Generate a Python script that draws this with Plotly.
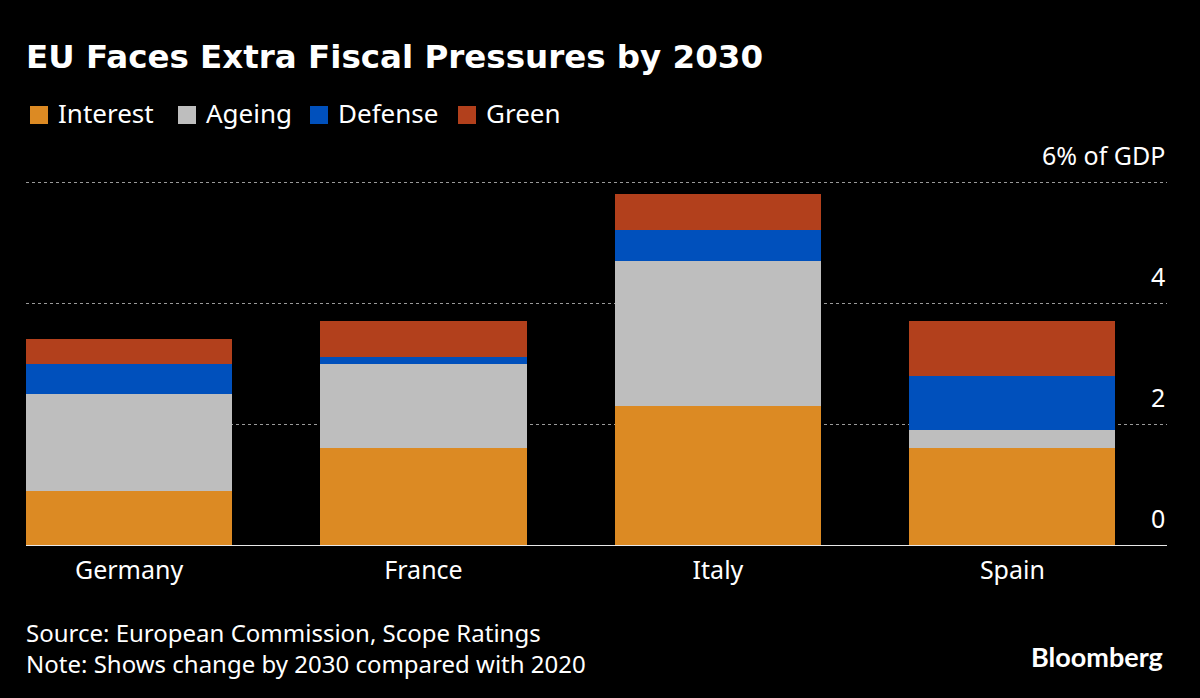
import plotly.graph_objects as go

# Values, % of GDP
countries = ["Germany", "France", "Italy", "Spain"]
interest = [0.9, 1.6, 2.3, 1.6]
ageing = [1.6, 1.4, 2.4, 0.3]
defense = [0.5, 0.1, 0.5, 0.9]
green = [0.4, 0.6, 0.6, 0.9]

series_names = ["Interest", "Ageing", "Defense", "Green"]
series_colors = ["#dc8a23", "#bebebe", "#0050bc", "#b2401c"]

y_ticks = [0, 2, 4, 6]
y_tick_labels = ["0", "2", "4", "6% of GDP"]

footer_lines = [
    "Source: European Commission, Scope Ratings",
    "Note: Shows change by 2030 compared with 2020",
]

WIDTH = 1200
HEIGHT = 698
TEXT_FONT = "Noto Sans"

# Plot area edges in pixels
LEFT = 26
RIGHT = 1167
TOP = 179
BOTTOM = 545


def px_x(x):
    """Pixel column to paper coordinate (paper spans the plot area)."""
    return (x - LEFT) / (RIGHT - LEFT)


def px_y(y):
    """Pixel row to paper coordinate (paper spans the plot area)."""
    return (BOTTOM - y) / (BOTTOM - TOP)


fig = go.Figure()

# Add the stacked bars
for name, values, color in zip(series_names, [interest, ageing, defense, green], series_colors):
    fig.add_trace(
        go.Bar(
            x=countries,
            y=values,
            name=name,
            width=0.7,
            marker=dict(color=color, line=dict(width=0)),
            showlegend=False,
        )
    )

# Legend row, placed by hand because plotly's bar swatches are too small
swatch_left = [30, 178, 310, 458]
annotations = []
shapes = []
for name, color, left in zip(series_names, series_colors, swatch_left):
    shapes.append(
        dict(
            type="rect", xref="paper", yref="paper",
            x0=px_x(left), x1=px_x(left + 18),
            y0=px_y(124), y1=px_y(106),
            fillcolor=color, line=dict(width=0),
        )
    )
    annotations.append(
        dict(
            text=name, xref="paper", yref="paper",
            x=px_x(left + 28), y=px_y(113),
            xanchor="left", yanchor="middle", showarrow=False,
            xshift=-2,
            font=dict(family=TEXT_FONT, size=26, color="#ffffff"),
        )
    )

# Value labels sit above their gridlines at the right edge
for tick, label in zip(y_ticks, y_tick_labels):
    annotations.append(
        dict(
            text=label, xref="paper", yref="y",
            x=1, y=tick, xanchor="right", yanchor="bottom",
            yshift=8, showarrow=False,
            font=dict(family=TEXT_FONT, size=25, color="#ffffff"),
        )
    )

# Source and note
annotations.append(
    dict(
        text="<br>".join(footer_lines), xref="paper", yref="paper",
        x=px_x(26), y=px_y(648),
        xanchor="left", yanchor="middle", align="left", showarrow=False,
        xshift=-2,
        font=dict(family=TEXT_FONT, size=24, color="#ffffff"),
    )
)
annotations.append(
    dict(
        text="<b>Bloomberg</b>", xref="paper", yref="paper",
        x=px_x(1165), y=px_y(656),
        xanchor="right", yanchor="middle", showarrow=False,
        font=dict(family="Lato", size=27, color="#ffffff"),
    )
)

fig.update_layout(
    width=WIDTH,
    height=HEIGHT,
    barmode="stack",
    paper_bgcolor="#000000",
    plot_bgcolor="#000000",
    margin=dict(l=LEFT, r=WIDTH - RIGHT, t=TOP, b=HEIGHT - BOTTOM, autoexpand=False),
    title=dict(
        text="<b>EU Faces Extra Fiscal Pressures by 2030</b>",
        x=26 / WIDTH, xanchor="left",
        y=1 - 57 / HEIGHT, yanchor="middle",
        font=dict(family="DejaVu Sans", size=32.5, color="#ffffff"),
    ),
    xaxis=dict(
        range=[-0.35, 3.525],
        showgrid=False,
        showline=True,
        linecolor="#e8e8e8",
        linewidth=1,
        layer="above traces",
        ticks="",
        tickfont=dict(family=TEXT_FONT, size=25, color="#ffffff"),
        ticklabelstandoff=3,
    ),
    yaxis=dict(
        range=[0, 6.05],
        tickvals=y_ticks,
        showticklabels=False,
        showgrid=True,
        gridcolor="#9a9a9a",
        griddash="3px,3px",
        gridwidth=1,
        zeroline=False,
    ),
    annotations=annotations,
    shapes=shapes,
    showlegend=False,
)

fig.write_html(
    "out.html",
    config=dict(displayModeBar=False),
    post_script="document.body.style.margin='0';",
)
